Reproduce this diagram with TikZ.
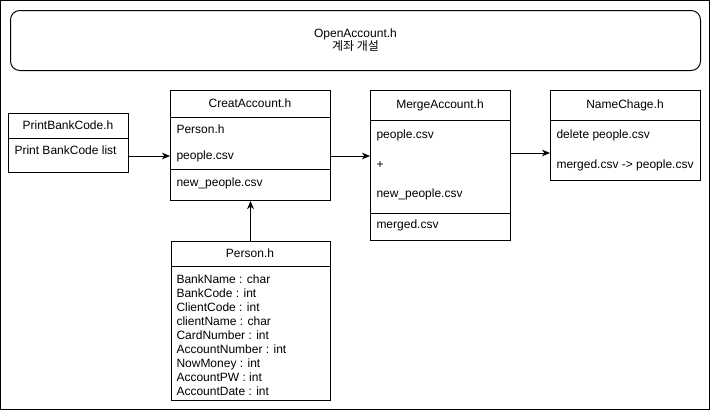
\documentclass[tikz,border=0pt]{standalone}
\usepackage{fontspec}
\setmainfont{Liberation Sans}
\newfontfamily\krfont{Noto Sans CJK KR}
\usetikzlibrary{arrows.meta}
\begin{document}
\begin{tikzpicture}[x=0.75pt,y=-0.75pt,
  font=\fontsize{9}{9.75}\selectfont,
  line width=0.75pt,
  box/.style={draw=black, fill=white, inner sep=0pt, anchor=north west},
  rowtext/.style={inner sep=0pt, anchor=west, text height=6.5pt, text depth=1.8pt},
  titletext/.style={inner sep=0pt, text height=6.5pt, text depth=1.8pt},
  conn/.style={draw=black, line width=0.75pt, -{Stealth[length=6pt,width=5pt,inset=1.8pt]}}]
\useasboundingbox (0,0) rectangle (711,411);
% outer frame
\draw[line width=1pt] (0.5,0.5) rectangle (709.5,409.5);

% OpenAccount
\node[box, rounded corners=7pt, minimum width={690*0.75pt}, minimum height={60*0.75pt}] (open) at (10,10) {};
\node[inner sep=0pt, align=center] (opent) at (open.center) {OpenAccount.h\\{\krfont 계좌 개설}};

% PrintBankCode
\node[box, minimum width={120*0.75pt}, minimum height={59*0.75pt}] (pb) at (8,113) {};
\draw (8,138) -- (128,138);
\node[titletext] (pbt) at (68,126) {PrintBankCode.h};
\node[rowtext] (pbr) at (14,151) {Print BankCode list};

% CreatAccount
\node[box, minimum width={160*0.75pt}, minimum height={110*0.75pt}] (ca) at (170,90) {};
\draw (170,117) -- (330,117);
\draw (170,169) -- (330,169);
\node[titletext] (cat) at (250,104) {CreatAccount.h};
\node[rowtext] (ca1) at (176,130) {Person.h};
\node[rowtext] (ca2) at (176,156) {people.csv};
\node[rowtext] (ca3) at (176,183) {new\_people.csv};

% MergeAccount
\node[box, minimum width={140*0.75pt}, minimum height={150*0.75pt}] (ma) at (370,90) {};
\draw (370,120) -- (510,120);
\draw (370,213) -- (510,213);
\node[titletext] (mat) at (440,105) {MergeAccount.h};
\node[rowtext] (ma1) at (376,135) {people.csv};
\node[rowtext] (ma2) at (376,165) {+};
\node[rowtext] (ma3) at (376,194) {new\_people.csv};
\node[rowtext] (ma4) at (376,225) {merged.csv};

% NameChage
\node[box, minimum width={150*0.75pt}, minimum height={90*0.75pt}] (nc) at (550,90) {};
\draw (550,120) -- (700,120);
\node[titletext] (nct) at (625,105) {NameChage.h};
\node[rowtext] (nc1) at (556,135) {delete people.csv};
\node[rowtext] (nc2) at (556,165) {merged.csv -> people.csv};

% Person
\node[box, minimum width={159*0.75pt}, minimum height={159*0.75pt}] (ps) at (170.5,241) {};
\draw (170.5,266) -- (329.5,266);
\node[titletext] (pst) at (250,254) {Person.h};
\foreach \t [count=\i] in {BankName : char, BankCode : int, ClientCode : int, clientName : char, CardNumber : int, AccountNumber : int, NowMoney : int, AccountPW : int, AccountDate : int}
  \node[rowtext] (p\i) at (176,{265.9+14.1*\i}) {\t};

% connectors
\coordinate (m3) at (530,153);
\draw[conn] (pb.east |- ca2) -- (ca.west |- ca2);
\draw[conn] (ca.east |- ca2) -- (ma.west |- ca2);
\draw[conn] (ma.east |- m3) -- (nc.west |- m3);
\draw[conn] (ps.north) -- (ca.south);
\end{tikzpicture}
\end{document}
